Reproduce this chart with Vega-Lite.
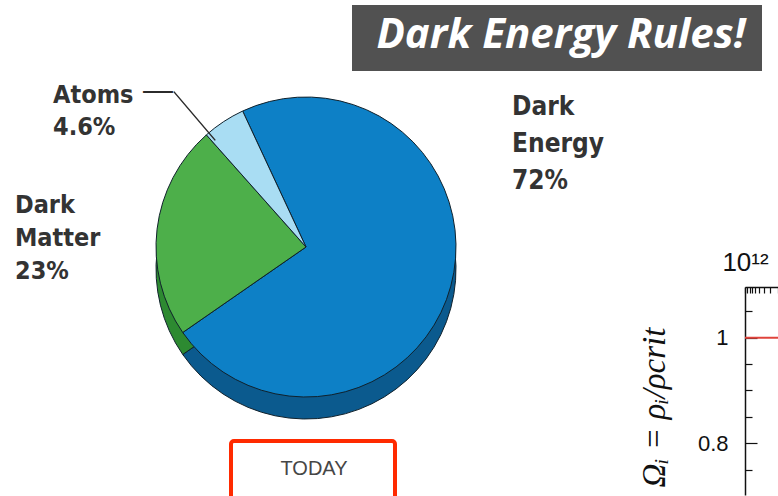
{
  "$schema": "https://vega.github.io/schema/vega-lite/v6.json",
  "background": "white",
  "padding": {"left": 0, "top": 5, "right": 0, "bottom": 0},
  "config": {"view": {"stroke": null}, "axis": {"grid": false}},
  "datasets": {
    "pie": [
      {"component": "Dark Energy", "share": 72, "rank": 1, "label": "Dark\nEnergy\n72%"},
      {"component": "Dark Matter", "share": 23, "rank": 2, "label": "Dark\nMatter\n 23%"},
      {"component": "Atoms", "share": 4.6, "rank": 3, "label": "Atoms\n4.6%"}
    ],
    "omega": [
      {"a": 1e12, "omega": 1},
      {"a": 2e11, "omega": 1}
    ]
  },
  "vconcat": [
    {
      "hconcat": [
        {"width": 352, "height": 66, "data": {"values": []}, "mark": "text"},
        {
          "width": 410, "height": 66,
          "view": {"fill": "#515151", "stroke": null},
          "data": {"values": [{"headline": "Dark Energy Rules!"}]},
          "mark": {"type": "text", "font": "Open Sans", "fontWeight": "bold", "fontStyle": "italic", "fontSize": 42, "fill": "white", "baseline": "alphabetic", "dy": 10, "dx": 4},
          "encoding": {"text": {"field": "headline"}}
        }
      ],
      "spacing": 0
    },
    {
      "hconcat": [
        {
          "vconcat": [
            {
              "width": 612, "height": 344,
              "data": {"name": "pie"},
              "layer": [
                {
                  "mark": {"type": "arc", "outerRadius": 150, "yOffset": 22, "stroke": "#10212c", "strokeWidth": 1},
                  "encoding": {
                    "theta": {"field": "share", "type": "quantitative", "stack": true, "scale": {"range": [-0.436, 5.847]}},
                    "order": {"field": "rank", "type": "quantitative"},
                    "color": {"field": "component", "type": "nominal", "scale": {"domain": ["Dark Energy", "Dark Matter", "Atoms"], "range": ["#0b5a8e", "#2d8a31", "#6fb8d6"]}, "legend": null}
                  }
                },
                {
                  "mark": {"type": "arc", "outerRadius": 150, "stroke": "#10212c", "strokeWidth": 1},
                  "encoding": {
                    "theta": {"field": "share", "type": "quantitative", "stack": true},
                    "order": {"field": "rank", "type": "quantitative"},
                    "color": {"field": "component", "type": "nominal", "scale": {"domain": ["Dark Energy", "Dark Matter", "Atoms"], "range": ["#0d80c6", "#4daf4a", "#a9ddf3"]}, "legend": null}
                  }
                },
                {
                  "transform": [{"filter": "datum.component === 'Atoms'"}],
                  "mark": {"type": "arc", "theta": -0.705, "theta2": -0.705, "innerRadius": 140, "outerRadius": 204, "stroke": "#2b2b2b", "strokeWidth": 1.5},
                  "encoding": {}
                },
                {
                  "transform": [{"filter": "datum.component === 'Atoms'"}],
                  "mark": {"type": "text", "text": "—", "theta": -0.789, "radius": 208.6, "align": "center", "baseline": "alphabetic", "fontSize": 30, "font": "Liberation Sans", "fill": "#2b2b2b"},
                  "encoding": {}
                },
                {
                  "transform": [{"filter": "datum.component === 'Atoms'"}],
                  "mark": {"type": "text", "theta": -1.0533, "radius": 291.1, "align": "left", "baseline": "alphabetic", "fontSize": 25, "lineHeight": 32, "font": "DejaVu Sans Condensed", "fontWeight": "bold", "fill": "#333333", "lineBreak": "\n"},
                  "encoding": {"text": {"field": "label"}}
                },
                {
                  "transform": [{"filter": "datum.component === 'Dark Matter'"}],
                  "mark": {"type": "text", "theta": -1.4546, "radius": 293, "align": "left", "baseline": "alphabetic", "fontSize": 25, "lineHeight": 33, "font": "DejaVu Sans Condensed", "fontWeight": "bold", "fill": "#333333", "lineBreak": "\n"},
                  "encoding": {"text": {"field": "label"}}
                },
                {
                  "transform": [{"filter": "datum.component === 'Dark Energy'"}],
                  "mark": {"type": "text", "theta": 1.0011, "radius": 244.7, "align": "left", "baseline": "alphabetic", "fontSize": 26, "lineHeight": 37, "font": "DejaVu Sans Condensed", "fontWeight": "bold", "fill": "#333333", "lineBreak": "\n"},
                  "encoding": {"text": {"field": "label"}}
                }
              ],
              "resolve": {"scale": {"color": "independent"}}
            },
            {
              "hconcat": [
                {"width": 229, "height": 62, "data": {"values": []}, "mark": "text"},
                {
                  "width": 164, "height": 62,
                  "view": {"stroke": "#ff2a00", "strokeWidth": 4, "cornerRadius": 3},
                  "data": {"values": [{"caption": "TODAY"}]},
                  "mark": {"type": "text", "fontSize": 20, "font": "Liberation Sans", "fill": "#464646", "dy": -3, "dx": 1},
                  "encoding": {"text": {"field": "caption"}}
                }
              ],
              "spacing": 0
            }
          ],
          "spacing": 18
        },
        {
          "vconcat": [
            {"width": 20, "height": 174, "data": {"values": []}, "mark": "text"},
            {
              "width": 33, "height": 208,
              "data": {"name": "omega"},
              "mark": {"type": "line", "color": "#e0443c", "strokeWidth": 2},
              "encoding": {
                "x": {
                  "field": "a", "type": "quantitative",
                  "scale": {"type": "log", "domain": [1e12, 2e11]},
                  "axis": {
                    "orient": "top", "title": null,
                    "values": [1e12, 9e11, 8e11, 7e11, 6e11, 5e11, 4e11, 3e11, 2e11],
                    "labelExpr": "datum.value == 1e12 ? '10¹²' : ''",
                    "tickSize": -6, "tickColor": "#111111", "tickWidth": 1.2,
                    "domainColor": "#111111", "domainWidth": 1.5,
                    "labelPadding": 18, "labelFontSize": 26, "labelFont": "Liberation Sans", "labelColor": "#111111",
                    "labelFlush": false, "labelOverlap": false
                  }
                },
                "y": {
                  "field": "omega", "type": "quantitative",
                  "scale": {"domain": [0.702, 1.096], "nice": false, "zero": false},
                  "axis": {
                    "orient": "left",
                    "values": [0.75, 0.8, 0.85, 0.9, 0.95, 1, 1.05],
                    "labelExpr": "abs(datum.value - 1) < 1e-6 ? '1' : (abs(datum.value - 0.8) < 1e-6 ? '0.8' : '')",
                    "tickSize": {"condition": {"test": "abs(datum.value - 1) < 1e-6 || abs(datum.value - 0.8) < 1e-6", "value": -12}, "value": -7},
                    "tickColor": "#111111", "tickWidth": 1.2,
                    "domainColor": "#111111", "domainWidth": 1.5,
                    "labelPadding": 29, "labelFontSize": 22, "labelFont": "Liberation Sans", "labelColor": "#111111",
                    "labelFlush": false, "labelOverlap": false,
                    "title": "Ωᵢ = ρᵢ/ρcrit",
                    "titleFont": "Liberation Serif", "titleFontStyle": "italic", "titleFontWeight": "normal",
                    "titleFontSize": 33, "titleColor": "#111111",
                    "titleAngle": -90, "titleBaseline": "alphabetic", "titleX": -81, "titleY": 120
                  }
                }
              }
            }
          ],
          "spacing": 0
        }
      ],
      "spacing": 25
    }
  ],
  "spacing": 4
}
